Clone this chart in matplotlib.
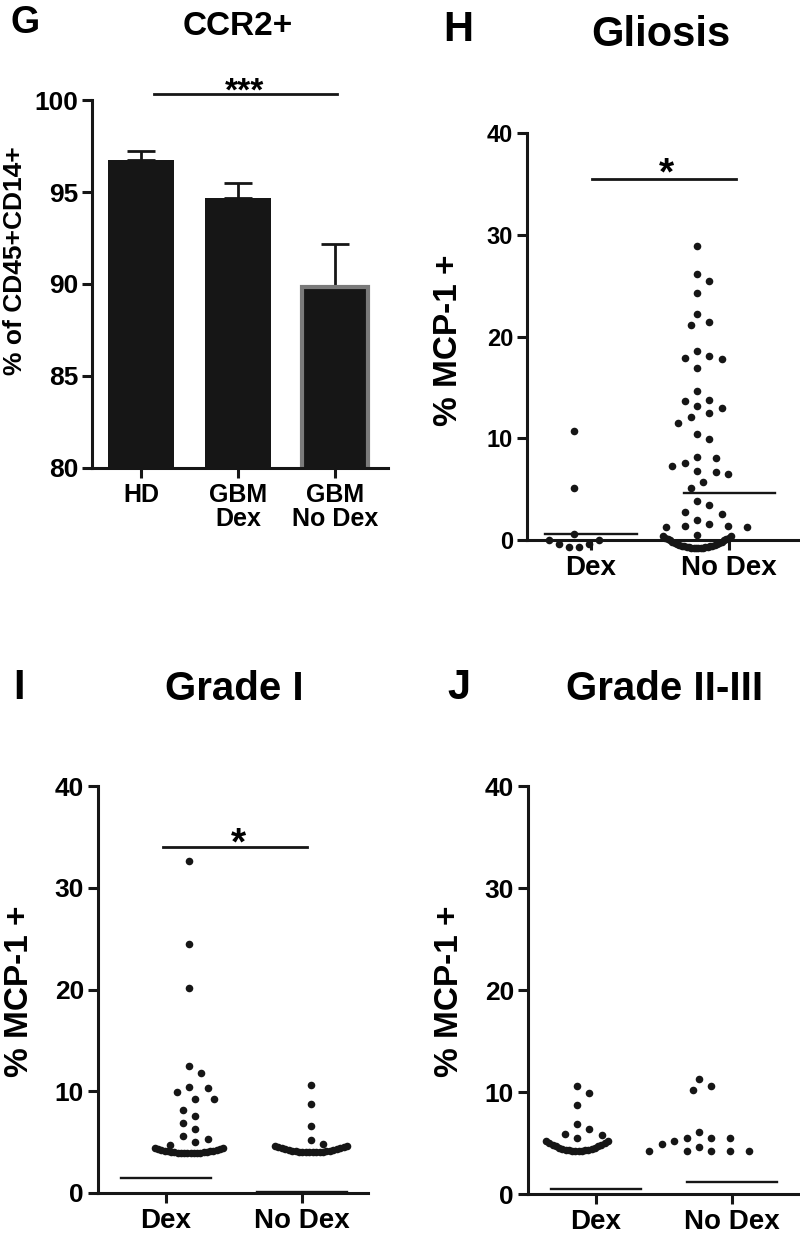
import numpy as np
import matplotlib.pyplot as plt

plt.rcParams['font.family'] = ['Liberation Sans', 'DejaVu Sans']
plt.rcParams['font.weight'] = 'bold'

# ---- data ----
# G: CCR2+ bar chart
g_groups = ['HD', 'GBM\nDex', 'GBM\nNo Dex']
g_means = [96.75, 94.7, 89.85]
g_sem = [0.5, 0.8, 2.3]

# H: Gliosis
h_dex = [10.7, 5.1, 0.6, 0, 0, 0, 0, 0, 0]
h_nodex = [28.9, 26.1, 25.5, 24.3, 22.2, 21.4, 21.1, 18.6, 18.1, 17.9, 17.8, 16.9,
           14.6, 13.8, 13.7, 13.2, 13.0, 12.5, 12.1, 11.5, 10.4, 9.9, 8.2, 8.1,
           7.6, 7.3, 6.8, 6.7, 6.5, 5.7, 5.1, 3.8, 3.4, 2.8, 2.6, 2.0, 1.6, 1.4,
           1.4, 1.3, 1.3, 0.5] + [0.4] * 30
h_lines = [0.6, 4.6]

# I: Grade I
i_dex = [32.6, 24.5, 20.1, 12.5, 11.8, 10.4, 10.3, 9.9, 9.2, 9.2, 8.2, 7.6,
         6.9, 6.3, 5.6, 5.3, 5.0, 4.7] + [4.4] * 22
i_nodex = [10.6, 8.7, 6.6, 5.2, 4.8] + [4.6] * 22
i_lines = [1.5, 0.1]

# J: Grade II-III
j_dex = [10.6, 9.9, 8.7, 6.9, 6.4, 5.9, 5.8, 5.5] + [5.2] * 20
j_nodex = [11.3, 10.6, 10.2, 6.1, 5.5, 5.5, 5.5, 5.2, 4.9, 4.6,
           4.2, 4.2, 4.2, 4.2, 4.2]
j_lines = [0.5, 1.2]

dot_groups = ['Dex', 'No Dex']

W, H = 800, 1239
fig = plt.figure(figsize=(W / 100, H / 100), dpi=100)
INK = '#161616'


def px_axes(left, right, top, bottom):
    return fig.add_axes([left / W, 1 - bottom / H, (right - left) / W, (bottom - top) / H])


def ftext(x, y, s, **kw):
    fig.text(x / W, 1 - y / H, s, **kw)


def swarm(values, ppx, ppy, arc_halfw, arc_sag, d=12.5, step=6.2, min_tie=6):
    # Prism-like scatter layout: ties become an arc, the rest a beeswarm
    vals = np.asarray(values, float)
    xs = np.zeros(len(vals))
    ys = vals.copy()
    uniq, counts = np.unique(vals, return_counts=True)
    ties = set(uniq[counts >= min_tie])
    for tv in ties:
        ids = np.where(vals == tv)[0]
        u = np.linspace(-1, 1, len(ids))
        xs[ids] = u * arc_halfw
        ys[ids] = tv - arc_sag * (1 - u ** 2) / ppy
    placed = []
    rest = sorted([i for i in range(len(vals)) if vals[i] not in ties], key=lambda i: -vals[i])
    cands = [0]
    for k in range(1, 30):
        cands += [k, -k]
    for i in rest:
        y = vals[i] * ppy
        for k in cands:
            x = k * step
            if all(np.hypot(x - px, y - py) >= d for px, py in placed):
                break
        placed.append((x, y))
        xs[i] = x
    return xs / ppx, ys


def style(ax, ysize, xsize):
    for s in ['top', 'right']:
        ax.spines[s].set_visible(False)
    for s in ['left', 'bottom']:
        ax.spines[s].set_linewidth(2.2)
        ax.spines[s].set_color(INK)
    ax.tick_params(axis='both', width=2.2, length=7, color=INK)
    ax.tick_params(axis='y', labelsize=ysize, pad=3)
    ax.tick_params(axis='x', labelsize=xsize, pad=4)


def dot_panel(ax, left, right, dex, nodex, lines, offsets, arcs, ysize):
    xlim = ax.get_xlim()
    ppx = (right - left) / (xlim[1] - xlim[0])
    ppy = 10.175
    for pos, vals, off, (hw, sag) in zip([0, 1], [dex, nodex], offsets, arcs):
        dx, ys = swarm(vals, ppx, ppy, hw, sag)
        ax.scatter(pos + off / ppx + dx, ys, s=30, color=INK, linewidths=0,
                   zorder=3, clip_on=False)
    for pos, m in zip([0, 1], lines):
        ax.plot([pos - 0.33, pos + 0.33], [m, m], color=INK, lw=1.7, zorder=2)
    ax.spines['bottom'].set_position(('data', 0))
    ax.spines['left'].set_bounds(0, 40)
    ax.set_yticks([0, 10, 20, 30, 40])
    ax.set_xticks([0, 1])
    ax.set_xticklabels(dot_groups)
    style(ax, ysize, 20)


# ---- G ----
axg = px_axes(92, 388, 100, 468)
xg = np.arange(len(g_groups))
axg.errorbar(xg, g_means, yerr=[np.zeros(3), g_sem], fmt='none', ecolor=INK,
             elinewidth=2, capsize=10, capthick=2, zorder=1)
axg.bar(xg, g_means, width=0.69, color=INK, edgecolor=[INK, INK, '#7a7a7a'],
        linewidth=[0, 0, 3], zorder=2)
axg.set_xlim(-0.505, 2.546)
axg.set_ylim(80, 100)
axg.set_yticks([80, 85, 90, 95, 100])
axg.set_xticks(xg)
axg.set_xticklabels(g_groups, linespacing=1.0)
style(axg, 19, 18)
axg.plot([0.13, 2.02], [100.3, 100.3], color=INK, lw=2, clip_on=False)
axg.text(1.07, 99.95, '***', ha='center', va='baseline', fontsize=24)

ftext(10, 33, 'G', fontsize=27, va='baseline')
ftext(238, 35, 'CCR2+', fontsize=24, ha='center', va='baseline')
ftext(15, 261, '% of CD45+CD14+', fontsize=19, rotation=90, ha='center', va='center')

# ---- H ----
axh = px_axes(527, 800, 133, 560.35)
axh.set_xlim(-0.464, 1.514)
axh.set_ylim(-2, 40)
dot_panel(axh, 527, 800, h_dex, h_nodex, h_lines, [-17, -32], [(25, 7), (34, 12)], 17)
axh.plot([0.007, 1.05], [35.5, 35.5], color=INK, lw=2, clip_on=False)
axh.text(0.55, 34.9, '*', ha='center', va='baseline', fontsize=28)
ftext(443, 41, 'H', fontsize=30, va='baseline')
ftext(661, 46, 'Gliosis', fontsize=30, ha='center', va='baseline')
ftext(448, 340, '% MCP-1 +', fontsize=24, rotation=90, ha='center', va='center')

# ---- I ----
axi = px_axes(98, 368, 786, 1213.35)
axi.set_xlim(-0.5, 1.485)
axi.set_ylim(-2, 40)
dot_panel(axi, 98, 368, i_dex, i_nodex, i_lines, [23, 9], [(34, 5), (36, 6)], 19)
axi.plot([-0.02, 1.04], [34.0, 34.0], color=INK, lw=2, clip_on=False)
axi.text(0.53, 33.3, '*', ha='center', va='baseline', fontsize=28)
ftext(13, 699, 'I', fontsize=30, va='baseline')
ftext(234, 700, 'Grade I', fontsize=29, ha='center', va='baseline')
ftext(20, 991, '% MCP-1 +', fontsize=24, rotation=90, ha='center', va='center')

# ---- J ----
axj = px_axes(528, 800, 786, 1214.4)
axj.set_xlim(-0.5, 1.5)
axj.set_ylim(-2, 40)
dot_panel(axj, 528, 800, j_dex, j_nodex, j_lines, [-19, -33], [(31, 10), (31, 10)], 19)
ftext(447, 699, 'J', fontsize=30, va='baseline')
ftext(665, 700, 'Grade II-III', fontsize=29, ha='center', va='baseline')
ftext(450, 991, '% MCP-1 +', fontsize=24, rotation=90, ha='center', va='center')

fig.savefig('out.png', dpi=100)
